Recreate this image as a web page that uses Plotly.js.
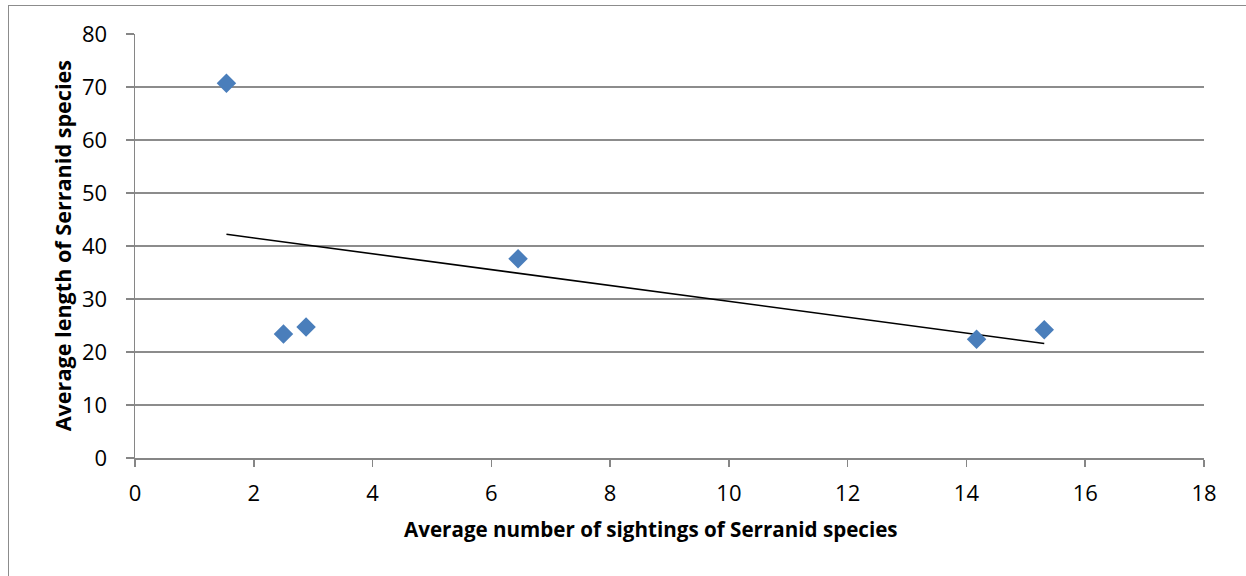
<!DOCTYPE html>
<html>
<head>
<meta charset="utf-8">
<script src="https://cdn.plot.ly/plotly-3.0.1.min.js"></script>
<style>
html,body{margin:0;padding:0;background:#fff;overflow:hidden;}
#wrap{position:relative;width:1246px;height:576px;}
#chart{position:absolute;left:0;top:0;width:1246px;height:576px;}
#frame{position:absolute;left:8px;top:5px;width:1300px;height:700px;border-left:1.5px solid #8c8c8c;border-top:1.5px solid #8c8c8c;pointer-events:none;}
</style>
</head>
<body>
<div id="wrap"><div id="chart"></div><div id="frame"></div></div>
<script>
// Data
const sightings = [1.54, 2.50, 2.88, 6.45, 14.17, 15.31];
const lengths   = [70.7, 23.4, 24.7, 37.6, 22.4, 24.2];
const xTickVals = [0, 2, 4, 6, 8, 10, 12, 14, 16, 18];
const yTickVals = [0, 10, 20, 30, 40, 50, 60, 70, 80];
const xTitle = 'Average number of sightings of Serranid species';
const yTitle = 'Average length of Serranid species';

// Linear least-squares trendline computed from the data
const n = sightings.length;
const mx = sightings.reduce((a,b)=>a+b,0)/n;
const my = lengths.reduce((a,b)=>a+b,0)/n;
let sxy = 0, sxx = 0;
for (let i=0;i<n;i++){ sxy += (sightings[i]-mx)*(lengths[i]-my); sxx += (sightings[i]-mx)**2; }
const slope = sxy/sxx, intercept = my - slope*mx;
const xmin = Math.min(...sightings), xmax = Math.max(...sightings);
const trendX = [xmin, xmax];
const trendY = trendX.map(v => intercept + slope*v);

const font = 'Open Sans, Noto Sans, sans-serif';
const axisGrey = '#868686';
const tickSize = 22;

const traces = [
  {x: trendX, y: trendY, mode: 'lines', type: 'scatter',
   line: {color: '#000000', width: 1.6}, hoverinfo: 'skip', showlegend: false},
  {x: sightings, y: lengths, mode: 'markers', type: 'scatter',
   marker: {symbol: 'diamond', size: 15, color: '#4a7ebb', line: {width: 0}}, showlegend: false}
];

const layout = {
  width: 1246, height: 576,
  margin: {l: 134.5, r: 41.5, t: 34, b: 117.5, pad: 0},
  paper_bgcolor: '#ffffff', plot_bgcolor: '#ffffff',
  font: {family: font, size: tickSize, color: '#000000'},
  showlegend: false,
  xaxis: {
    range: [0, 18], tickvals: xTickVals, ticktext: xTickVals.map(String),
    showgrid: false, zeroline: false,
    showline: true, linecolor: axisGrey, linewidth: 1.5,
    ticks: 'outside', ticklen: 7, tickcolor: axisGrey, tickwidth: 1.5,
    ticklabelstandoff: 8,
    tickfont: {family: font, size: tickSize, color: '#000'}, fixedrange: true
  },
  yaxis: {
    range: [0, 80], tickvals: yTickVals, ticktext: yTickVals.map(String),
    showgrid: true, gridcolor: '#8c8c8c', gridwidth: 1.4, zeroline: false,
    showline: true, linecolor: axisGrey, linewidth: 1.5,
    ticks: 'outside', ticklen: 8, tickcolor: axisGrey, tickwidth: 1.5,
    ticklabelstandoff: 14,
    tickfont: {family: font, size: tickSize, color: '#000'}, fixedrange: true
  },
  annotations: [
    {text: '<b>' + xTitle + '</b>', xref: 'paper', yref: 'paper',
     x: (651 - 134.5)/1070, y: -(530 - 458.5)/424.5, xanchor: 'center', yanchor: 'middle',
     showarrow: false, font: {family: font, size: 20.6, color: '#000'}},
    {text: '<b>' + yTitle + '</b>', xref: 'paper', yref: 'paper',
     x: -(134.5 - 62)/1070, y: (458.5 - 246)/424.5, xanchor: 'center', yanchor: 'middle',
     textangle: -90, showarrow: false, font: {family: font, size: 21.6, color: '#000'}}
  ]
};

Plotly.newPlot('chart', traces, layout, {staticPlot: true, displayModeBar: false});
</script>
</body>
</html>
